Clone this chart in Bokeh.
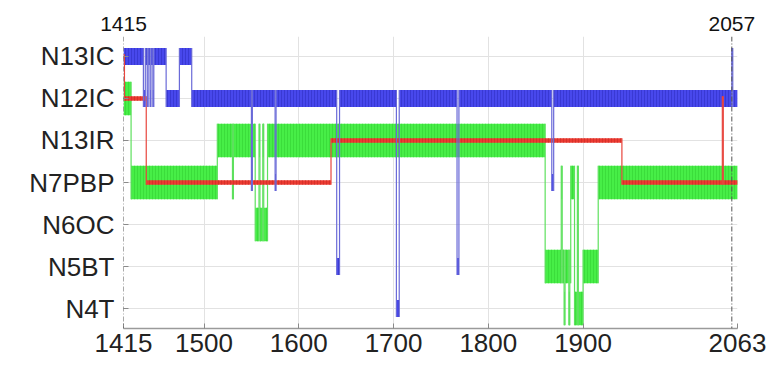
from bokeh.plotting import figure
from bokeh.models import FixedTicker, Span, LinearAxis
from bokeh.embed import file_html
from bokeh.resources import INLINE

# ---------------- data ----------------
categories = ["N4T", "N5BT", "N6OC", "N7PBP", "N13IR", "N12IC", "N13IC"]
x_ticks = [1415, 1500, 1600, 1700, 1800, 1900, 2063]
grid_years = [1500, 1600, 1700, 1800, 1900]
marked_years = [1415, 2057]
x_start, x_end = 1415, 2063

green_years = [1415, 1423, 1514, 1530, 1531, 1554, 1558, 1559, 1562, 1563, 1567,
               1860, 1877, 1878, 1880, 1881, 1885, 1886, 1887, 1891, 1894, 1895,
               1900, 1916]
green_states = ["N12IC", "N7PBP", "N13IR", "N7PBP", "N13IR", "N6OC", "N13IR", "N6OC",
                "N13IR", "N6OC", "N13IR", "N5BT", "N7PBP", "N5BT", "N4T", "N5BT",
                "N4T", "N5BT", "N7PBP", "N4T", "N7PBP", "N4T", "N5BT", "N7PBP"]

blue_years = [1415, 1436, 1438, 1440, 1441, 1443, 1444, 1446, 1447, 1460, 1474, 1487,
              1550, 1551, 1575, 1576, 1640, 1643, 1703, 1706, 1767, 1769, 1867, 1869,
              2057, 2058]
blue_states = ["N13IC", "N12IC", "N13IC", "N12IC", "N13IC", "N12IC", "N13IC", "N12IC",
               "N13IC", "N12IC", "N13IC", "N12IC", "N7PBP", "N12IC", "N7PBP", "N12IC",
               "N5BT", "N12IC", "N4T", "N12IC", "N5BT", "N12IC", "N7PBP", "N12IC",
               "N13IC", "N12IC"]

red_years = [1415, 1416, 1439, 1634, 1941, 2047, 2048]
red_states = ["N13IC", "N12IC", "N7PBP", "N13IR", "N7PBP", "N12IC", "N7PBP"]

# ---------------- helpers ----------------
level = {c: i for i, c in enumerate(categories)}


def build(years, states, end, half):
    lv = [level[s] for s in states]
    quads = dict(left=list(years), right=list(years[1:]) + [end],
                 top=[v + half for v in lv], bottom=[v - half for v in lv])
    xs, y0, y1 = [], [], []
    for i in range(1, len(lv)):
        if lv[i] == lv[i - 1]:
            continue
        s = 1 if lv[i] > lv[i - 1] else -1
        xs.append(years[i])
        y0.append(lv[i - 1] - s * half)
        y1.append(lv[i] + s * half)
    return quads, dict(x=xs, y0=y0, y1=y1)


ypad = 0.476
p = figure(width=770, height=364, x_range=(x_start, x_end),
           y_range=(-ypad, len(categories) - 1 + ypad),
           output_backend="svg", toolbar_location=None,
           min_border_left=123, min_border_right=33,
           min_border_top=36, min_border_bottom=36)
p.outline_line_color = None
p.background_fill_color = "white"

# axes
p.xaxis.ticker = FixedTicker(ticks=x_ticks)
p.yaxis.ticker = FixedTicker(ticks=list(range(len(categories))))
p.yaxis.major_label_overrides = {i: c for i, c in enumerate(categories)}
for ax in (p.xaxis[0], p.yaxis[0]):
    ax.major_tick_in = 5
    ax.major_tick_out = 0
    ax.minor_tick_line_color = None
    ax.major_tick_line_color = "#8a8a8a"
    ax.major_label_text_font = "Liberation Sans"
    ax.major_label_text_color = "#222222"
    ax.major_label_text_font_style = "normal"
p.yaxis.axis_line_color = None
p.yaxis.major_label_text_font_size = "26px"
p.yaxis.major_label_standoff = 9
p.xaxis.major_label_text_font_size = "26px"
p.xaxis.major_label_standoff = 5
p.xaxis.axis_line_color = "#9a9a9a"
p.xaxis.axis_line_width = 1.5

# marked years shown on an axis above the frame
top_axis = LinearAxis(ticker=FixedTicker(ticks=marked_years),
                      axis_line_color=None, major_tick_line_color=None,
                      minor_tick_line_color=None, major_label_standoff=0,
                      major_label_text_font="Liberation Sans",
                      major_label_text_font_size="21px",
                      major_label_text_color="#111111")
p.add_layout(top_axis, "above")

p.xgrid.ticker = FixedTicker(ticks=grid_years)
p.ygrid.ticker = FixedTicker(ticks=list(range(len(categories))))
p.xgrid.grid_line_color = "#e2e2e2"
p.ygrid.grid_line_color = "#e2e2e2"

# series
gq, gc = build(green_years, green_states, x_end, 0.4)
bq, bc = build(blue_years, blue_states, x_end, 0.2)
rq, rc = build(red_years, red_states, x_end, 0.055)

p.quad(**gq, fill_color="#47ee47", line_color=None,
       hatch_pattern="|", hatch_scale=3, hatch_color="#36d636", hatch_weight=1,
       hatch_alpha=0.7)
p.quad(**bq, fill_color="#4848ec", line_color=None,
       hatch_pattern="|", hatch_scale=3, hatch_color="#2e2ec4", hatch_weight=1,
       hatch_alpha=0.6)
p.segment(x0=gc["x"], x1=gc["x"], y0=gc["y0"], y1=gc["y1"],
          line_color="#5ee05e", line_width=1.2)
p.quad(**rq, fill_color="#ec3b32", line_color=None,
       hatch_pattern="|", hatch_scale=3, hatch_color="#c82a24", hatch_weight=1,
       hatch_alpha=0.6)
p.segment(x0=rc["x"], x1=rc["x"], y0=rc["y0"], y1=rc["y1"],
          line_color="#e8453d", line_width=1.2)
p.segment(x0=bc["x"], x1=bc["x"], y0=bc["y0"], y1=bc["y1"],
          line_color="#6a6ad8", line_width=1.2)

# dash-dot lines at the marked years
for yr in marked_years:
    p.add_layout(Span(location=yr, dimension="height", line_color="#555555",
                      line_width=1, line_dash="5 2 1 2"))

open("out.html", "w").write(file_html(p, INLINE))
